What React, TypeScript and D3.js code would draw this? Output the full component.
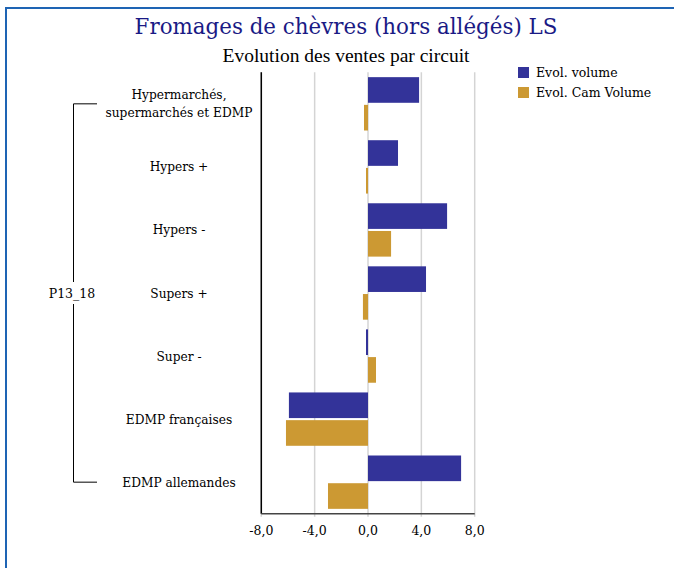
import React from "react";
import * as d3 from "d3";

const categories = [
  ["Hypermarchés,", "supermarchés et EDMP"],
  ["Hypers +"],
  ["Hypers -"],
  ["Supers +"],
  ["Super -"],
  ["EDMP françaises"],
  ["EDMP allemandes"],
];
const seriesNames = ["Evol. volume", "Evol. Cam Volume"];
const evolVolume = [3.83, 2.25, 5.93, 4.35, -0.15, -5.93, 6.98];
const evolCamVolume = [-0.3, -0.15, 1.73, -0.38, 0.6, -6.15, -3.0];
const tickValues = [-8, -4, 0, 4, 8];
const groupLabel = "P13_18";
const title = "Fromages de chèvres (hors allégés) LS";
const subtitle = "Evolution des ventes par circuit";

const colors = ["#333399", "#cc9933"];

export default function App() {
  const W = 674, H = 568;
  const left = 261.3, right = 474.7, top = 72.3, bottom = 513.7;
  const x = d3.scaleLinear().domain([-8, 8]).range([left, right]);
  const idx = categories.map((_, i) => i);
  const y = d3.scaleBand<number>().domain(idx).range([top, bottom]).paddingInner(0.154).paddingOuter(0.077);
  const inner = d3.scaleBand<number>().domain([0, 1]).range([0, y.bandwidth()]).paddingInner(0.075);
  const series = [evolVolume, evolCamVolume];
  const fmt = (v: number) => d3.format(".1f")(v).replace(".", ",").replace("−", "-");
  const step = (bottom - top) / categories.length;
  const center = (i: number) => top + step * (i + 0.5);
  const serif = "'DejaVu Serif', serif";
  const bx = 73.5;
  const y1 = center(0), y2 = center(categories.length - 1);
  const ym = center(3);
  return (
    <svg width={W} height={H} style={{ position: "absolute", left: 0, top: 0, background: "#fff" }}>
      <rect x={6} y={8} width={W + 10} height={H + 10} fill="none" stroke="#1e64b4" strokeWidth={2} />
      <text x={346} y={34} textAnchor="middle" fontFamily={serif} fontSize={21.4} fill="#1a1a85">{title}</text>
      <text x={346} y={62} textAnchor="middle" fontFamily="'Liberation Serif', serif" fontSize={19.5} fill="#000">{subtitle}</text>
      {tickValues.map((t) => (
        <line key={t} x1={x(t)} x2={x(t)} y1={top} y2={bottom + 3} stroke="#d4d4d4" strokeWidth={1.5} />
      ))}
      {series.map((s, si) =>
        s.map((v, i) => {
          const y0 = (y(i) ?? 0) + (inner(si) ?? 0);
          return (
            <rect key={si + "-" + i} x={Math.min(x(0), x(v))} y={y0} width={Math.abs(x(v) - x(0))} height={inner.bandwidth()} fill={colors[si]} />
          );
        })
      )}
      <line x1={left} x2={left} y1={top} y2={bottom} stroke="#000" strokeWidth={1.5} />
      <line x1={left} x2={right} y1={bottom} y2={bottom} stroke="#444" strokeWidth={1.5} />
      {tickValues.map((t) => (
        <text key={"l" + t} x={x(t)} y={535} textAnchor="middle" fontFamily={serif} fontSize={12.5} fill="#000">{fmt(t)}</text>
      ))}
      {categories.map((lines, i) => (
        <text key={"c" + i} x={179} y={center(i) + 4.5 - (lines.length - 1) * 9} textAnchor="middle" fontFamily={serif} fontSize={12.2} fill="#000">
          {lines.map((l, k) => (
            <tspan key={k} x={179} dy={k === 0 ? 0 : 18}>{l}</tspan>
          ))}
        </text>
      ))}
      <path d={`M97,${y1}H${bx}V${ym - 11}M${bx},${ym + 11}V${y2}H97`} fill="none" stroke="#000" strokeWidth={1} />
      <text x={72} y={ym + 4.5} textAnchor="middle" fontFamily={serif} fontSize={12.5} fill="#000">{groupLabel}</text>
      {seriesNames.map((n, i) => (
        <g key={n}>
          <rect x={518} y={67 + i * 20} width={11} height={11} fill={colors[i]} />
          <text x={536} y={77 + i * 20} fontFamily={serif} fontSize={12.5} fill="#000">{n}</text>
        </g>
      ))}
    </svg>
  );
}
